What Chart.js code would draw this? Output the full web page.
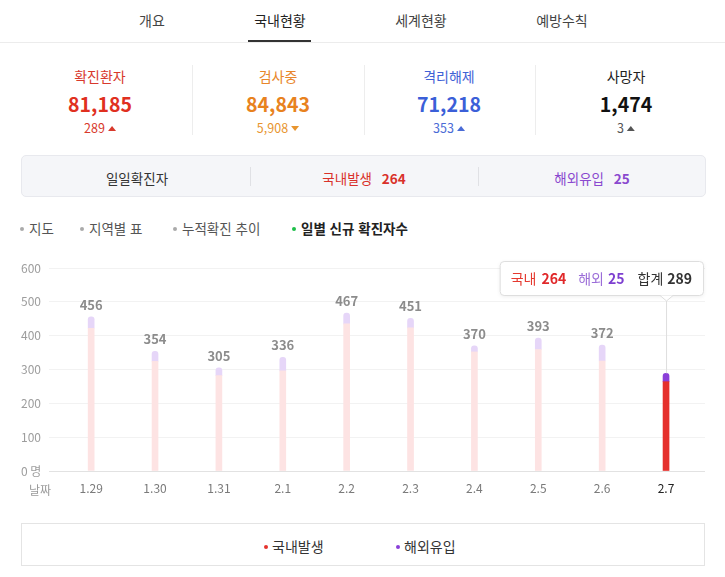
<!DOCTYPE html>
<html lang="ko">
<head>
<meta charset="utf-8">
<title>국내현황</title>
<script src="https://cdn.jsdelivr.net/npm/chart.js@4"></script>
<style>
  * { box-sizing: border-box; }
  body { margin: 0; background: #fff; font-family: 'Noto Sans CJK KR', 'Noto Sans', sans-serif; }
  .page { position: relative; width: 725px; height: 577px; overflow: hidden; }
  .abs { position: absolute; white-space: nowrap; }
  .tab { top: 9px; height: 22px; line-height: 22px; font-size: 14px; color: #444; transform: translateX(-50%); }
  .tab.on { color: #222; }
  .tabline { top: 40px; left: 248px; width: 63px; height: 2px; background: #333; }
  .topsep { top: 42px; left: 0; width: 725px; height: 1px; background: #ececec; }
  .stat { transform: translateX(-50%); text-align: center; }
  .stat .lbl { font-size: 14px; height: 20px; line-height: 20px; }
  .stat .num { font-size: 19.5px; font-weight: 700; height: 28px; line-height: 28px; margin-top: 4px; }
  .stat .dlt { font-size: 12.5px; height: 16px; line-height: 16px; margin-top: 2px; }
  .up, .down { display: inline-block; width: 0; height: 0; border-left: 4px solid transparent; border-right: 4px solid transparent; margin-left: 3px; vertical-align: 2px; }
  .up { border-bottom: 5px solid currentColor; }
  .down { border-top: 5px solid currentColor; }
  .vsep { width: 1px; background: #ededed; }
  .subbox { left: 21px; top: 155px; width: 685px; height: 42px; background: #f5f6f9; border: 1px solid #e8e9ee; border-radius: 5px; }
  .subtxt { top: 168px; height: 20px; line-height: 20px; font-size: 13.5px; transform: translateX(-50%); }
  .menu { top: 218px; height: 20px; line-height: 20px; font-size: 13.5px; color: #555; }
  .dot { display: inline-block; width: 4px; height: 4px; border-radius: 50%; background: #aaa; vertical-align: middle; margin-right: 5px; position: relative; top: -1px; }
  .chartwrap { left: 0; top: 250px; width: 725px; height: 250px; }
  .legendbox { left: 21px; top: 523px; width: 684px; height: 43px; border: 1px solid #e4e4e4; }
  .leg { top: 536px; height: 20px; line-height: 20px; font-size: 14px; color: #333; }
</style>
</head>
<body>
<div class="page">
  <div class="abs tab" style="left:152px">개요</div>
  <div class="abs tab on" style="left:280px">국내현황</div>
  <div class="abs tab" style="left:421px">세계현황</div>
  <div class="abs tab" style="left:562px">예방수칙</div>
  <div class="abs tabline"></div>
  <div class="abs topsep"></div>

  <div class="abs stat" style="left:100px; top:66px">
    <div class="lbl" style="color:#d8392c">확진환자</div>
    <div class="num" style="color:#e0301f">81,185</div>
    <div class="dlt" style="color:#d8392c">289<span class="up"></span></div>
  </div>
  <div class="abs vsep" style="left:192px; top:65px; height:70px"></div>
  <div class="abs stat" style="left:278px; top:66px">
    <div class="lbl" style="color:#e8862a">검사중</div>
    <div class="num" style="color:#e8821e">84,843</div>
    <div class="dlt" style="color:#e8952e">5,908<span class="down"></span></div>
  </div>
  <div class="abs vsep" style="left:364px; top:65px; height:70px"></div>
  <div class="abs stat" style="left:449px; top:66px">
    <div class="lbl" style="color:#3f62d6">격리해제</div>
    <div class="num" style="color:#3b5fd8">71,218</div>
    <div class="dlt" style="color:#4a6bd6">353<span class="up"></span></div>
  </div>
  <div class="abs vsep" style="left:535px; top:65px; height:70px"></div>
  <div class="abs stat" style="left:626px; top:66px">
    <div class="lbl" style="color:#222">사망자</div>
    <div class="num" style="color:#111">1,474</div>
    <div class="dlt" style="color:#555">3<span class="up"></span></div>
  </div>

  <div class="abs subbox"></div>
  <div class="abs subtxt" style="left:137px; color:#333">일일확진자</div>
  <div class="abs vsep" style="left:250px; top:167px; height:19px; background:#e0e1e5"></div>
  <div class="abs subtxt" style="left:364px; color:#d9312a">국내발생 <b style="margin-left:6px">264</b></div>
  <div class="abs vsep" style="left:478px; top:167px; height:19px; background:#e0e1e5"></div>
  <div class="abs subtxt" style="left:592px; color:#8a49cf">해외유입 <b style="margin-left:6px">25</b></div>

  <div class="abs menu" style="left:20px"><span class="dot"></span>지도</div>
  <div class="abs menu" style="left:80px"><span class="dot"></span>지역별 표</div>
  <div class="abs menu" style="left:173px"><span class="dot"></span>누적확진 추이</div>
  <div class="abs menu" style="left:292px; color:#222; font-weight:700"><span class="dot" style="background:#1dbf49"></span>일별 신규 확진자수</div>

  <div class="abs chartwrap"><canvas id="dailyChart"></canvas></div>
  <div class="abs" style="left:29px; top:481px; height:18px; line-height:18px; font-size:12px; color:#9a9a9a">날짜</div>

  <div class="abs legendbox"></div>
  <div class="abs leg" style="left:264px"><span class="dot" style="background:#e5322d; margin-right:4px"></span>국내발생</div>
  <div class="abs leg" style="left:396px"><span class="dot" style="background:#8a3fd8; margin-right:4px"></span>해외유입</div>
</div>

<script>
const categories = ['1.29', '1.30', '1.31', '2.1', '2.2', '2.3', '2.4', '2.5', '2.6', '2.7'];
const domestic = [422, 324, 282, 296, 435, 423, 352, 359, 325, 264];
const overseas = [34, 30, 23, 40, 32, 28, 18, 34, 47, 25];
const yTicks = [0, 100, 200, 300, 400, 500, 600];
const activeIndex = categories.length - 1;

const FONT = "'Noto Sans CJK KR', 'Noto Sans', sans-serif";
Chart.defaults.font.family = FONT;

const pick = (on, off) => categories.map((c, i) => i === activeIndex ? on : off);

const data = {
    datasets: [{
        label: '국내발생',
        data: categories.map((c, i) => ({ x: i, y: domestic[i] })),
        backgroundColor: pick('#e5302c', '#fde3e3'),
        barThickness: 6,
        borderRadius: 0
    }, {
        label: '해외유입',
        data: categories.map((c, i) => ({ x: i, y: overseas[i] })),
        backgroundColor: pick('#8a3fd8', '#e6d6f8'),
        barThickness: 6,
        borderRadius: { topLeft: 3, topRight: 3, bottomLeft: 0, bottomRight: 0 }
    }]
};

// totals above the inactive bars
const totalLabels = {
    id: 'totalLabels',
    afterDatasetsDraw(chart) {
        const { ctx } = chart;
        const meta = chart.getDatasetMeta(1);
        ctx.save();
        ctx.font = '600 13px ' + FONT;
        ctx.fillStyle = '#8c8c8c';
        ctx.textAlign = 'center';
        ctx.textBaseline = 'middle';
        meta.data.forEach((bar, i) => {
            if (i === activeIndex) return;
            ctx.fillText(String(domestic[i] + overseas[i]), bar.x, bar.y - 12);
        });
        ctx.restore();
    }
};

// fixed tooltip on the latest day
const dayTip = {
    id: 'dayTip',
    afterDraw(chart) {
        const { ctx, chartArea } = chart;
        const bar = chart.getDatasetMeta(1).data[activeIndex];
        const px = chart.scales.x.getPixelForValue(activeIndex);
        // [text, colour, weight, gap after]
        const parts = [
            ['국내', '#e5392f', 400, 5], [String(domestic[activeIndex]), '#e0282a', 700, 12],
            ['해외', '#9b6dd8', 400, 4], [String(overseas[activeIndex]), '#7d3fd0', 700, 13],
            ['합계', '#333', 400, 4], [String(domestic[activeIndex] + overseas[activeIndex]), '#333', 700, 0]
        ];
        ctx.save();
        let tw = 0;
        parts.forEach(p => { ctx.font = p[2] + ' 14px ' + FONT; tw += ctx.measureText(p[0]).width + p[3]; });
        const top = chartArea.top - 7, bottom = chartArea.top + 27;
        const right = px + 37, left = right - tw - 22;
        const tip = bottom + 6;

        ctx.strokeStyle = '#dedede';
        ctx.lineWidth = 1;
        ctx.beginPath();
        ctx.moveTo(px + 0.5, tip);
        ctx.lineTo(px + 0.5, bar.y);
        ctx.stroke();

        ctx.shadowColor = 'rgba(0,0,0,0.08)';
        ctx.shadowBlur = 4;
        ctx.shadowOffsetY = 1;
        ctx.fillStyle = '#fff';
        ctx.beginPath();
        ctx.roundRect(left + 0.5, top + 0.5, right - left, bottom - top, 4);
        ctx.fill();
        ctx.shadowColor = 'transparent';
        ctx.stroke();

        ctx.beginPath();
        ctx.moveTo(px - 6, bottom + 0.5);
        ctx.lineTo(px + 0.5, tip);
        ctx.lineTo(px + 7, bottom + 0.5);
        ctx.closePath();
        ctx.fill();
        ctx.beginPath();
        ctx.moveTo(px - 6, bottom + 0.5);
        ctx.lineTo(px + 0.5, tip);
        ctx.lineTo(px + 7, bottom + 0.5);
        ctx.stroke();

        let x = left + 11;
        ctx.textBaseline = 'middle';
        ctx.textAlign = 'left';
        parts.forEach(p => {
            ctx.font = p[2] + ' 14px ' + FONT;
            ctx.fillStyle = p[1];
            ctx.fillText(p[0], x, (top + bottom) / 2 + 1);
            x += ctx.measureText(p[0]).width + p[3];
        });
        ctx.restore();
    }
};

const options = {
    responsive: true,
    maintainAspectRatio: false,
    animation: false,
    events: [],
    layout: { padding: { left: 21, right: 20, top: 18, bottom: 0 } },
    plugins: {
        legend: { display: false },
        tooltip: { enabled: false }
    },
    scales: {
        x: {
            type: 'linear',
            min: -0.66,
            max: 9.61,
            offset: false,
            stacked: true,
            grid: { display: false, drawTicks: false },
            border: { display: false },
            ticks: {
                stepSize: 1,
                includeBounds: false,
                autoSkip: false,
                maxRotation: 0,
                padding: 10,
                font: { size: 12 },
                color: ctx => ctx.tick && ctx.tick.value === activeIndex ? '#222' : '#7a7a7a',
                callback: v => Number.isInteger(v) && categories[v] ? categories[v] : ''
            },
            afterFit: s => { s.height = 29; }
        },
        y: {
            stacked: true,
            min: yTicks[0],
            max: yTicks[yTicks.length - 1],
            border: { display: false },
            grid: {
                drawTicks: false,
                color: ctx => ctx.tick && ctx.tick.value === 0 ? '#e2e2e2' : '#f2f2f2'
            },
            ticks: {
                stepSize: 100,
                crossAlign: 'far',
                font: { size: 12 },
                color: '#9d9d9d',
                callback: v => v === 0 ? '0 명' : v
            },
            afterFit: s => { s.width = 28; }
        }
    }
};

new Chart(document.getElementById('dailyChart'), {
    type: 'bar',
    data,
    options,
    plugins: [totalLabels, dayTip]
});
</script>
</body>
</html>
